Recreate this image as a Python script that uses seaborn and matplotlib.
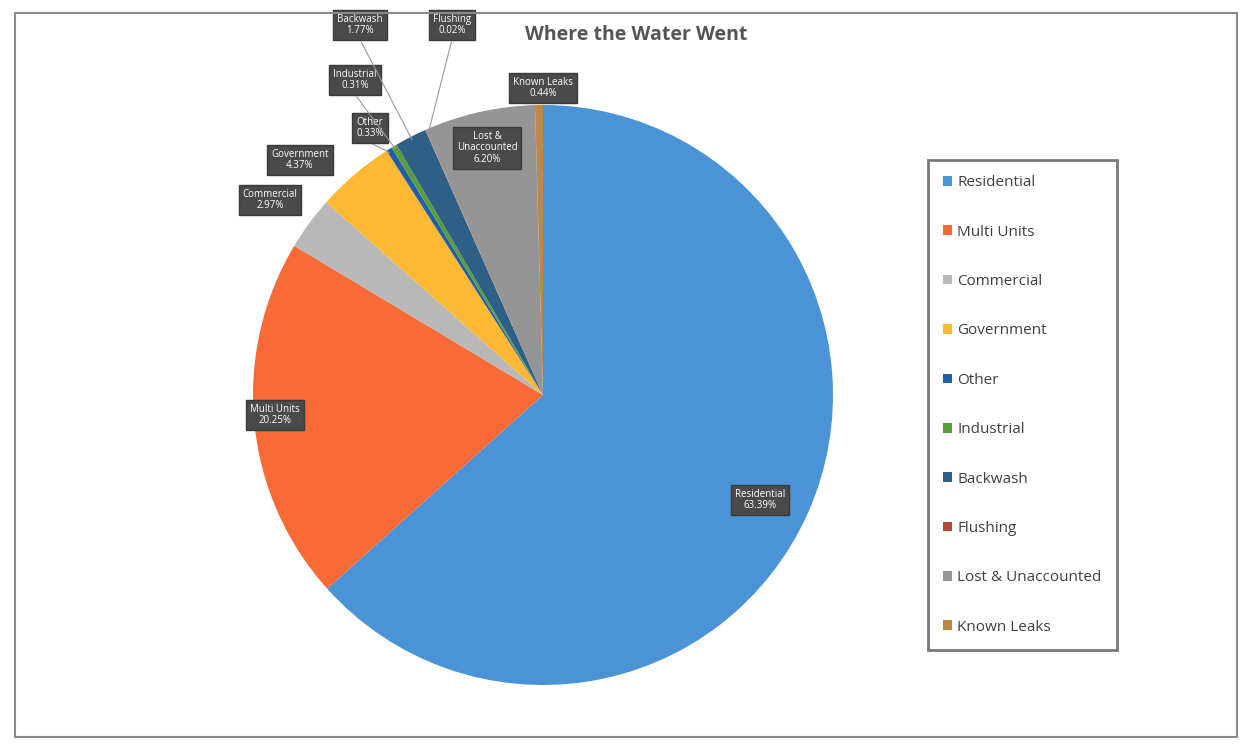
import matplotlib
matplotlib.use("Agg")
import matplotlib.pyplot as plt
import matplotlib.patches as mpatches
import numpy as np
import seaborn as sns

categories = ["Residential", "Multi Units", "Commercial", "Government", "Other",
              "Industrial", "Backwash", "Flushing", "Lost & Unaccounted", "Known Leaks"]
values = [63.39, 20.25, 2.97, 4.37, 0.33, 0.31, 1.77, 0.02, 6.20, 0.44]
label_names = ["Residential", "Multi Units", "Commercial", "Government", "Other",
               "Industrial", "Backwash", "Flushing", "Lost &\nUnaccounted", "Known Leaks"]
colors = ["#4A93D6", "#F86A36", "#B8B8B8", "#FDB933", "#1F5FA8",
          "#5A9E3A", "#2E5F86", "#B0473A", "#959595", "#BE8746"]

sns.set_theme(style="white")
plt.rcParams['font.family'] = ['Open Sans', 'DejaVu Sans']

fig = plt.figure(figsize=(12.52, 7.51), dpi=100)
fig.patch.set_facecolor("white")

# chart frame
frame = mpatches.Rectangle((0.012, 0.018), 0.976, 0.965, transform=fig.transFigure,
                           fill=False, edgecolor="#8a8a8a", linewidth=1.5)
fig.patches.append(frame)

cx, cy, r = 543, 395, 290
W, H = 1252, 751
ax = fig.add_axes([(cx - r) / W, 1 - (cy + r) / H, 2 * r / W, 2 * r / H])
wedges, _ = ax.pie(values, colors=colors, startangle=90, counterclock=False,
                   radius=1.0, wedgeprops=dict(linewidth=0))
ax.set_xlim(-1, 1)
ax.set_ylim(-1, 1)
ax.set_aspect("equal")
ax.axis("off")

# label placements (pixel coords in the figure)
label_px = [(760, 500), (275, 415), (270, 200), (300, 160), (370, 128),
            (355, 80), (360, 25), (452, 25), (487, 148), (543, 88)]
leader = [False, False, False, False, True, True, True, True, False, False]

for i, (w, name, v) in enumerate(zip(wedges, label_names, values)):
    px, py = label_px[i]
    xd, yd = (px - cx) / r, (cy - py) / r
    ang = np.deg2rad((w.theta1 + w.theta2) / 2)
    if leader[i]:
        ax.annotate("", xy=(np.cos(ang) * 0.98, np.sin(ang) * 0.98), xytext=(xd, yd - 0.05),
                    arrowprops=dict(arrowstyle="-", color="#9a9a9a", lw=0.8),
                    annotation_clip=False)
    ax.text(xd, yd, f"{name}\n{v:.2f}%", ha="center", va="center", fontsize=7,
            color="white", linespacing=1.1, clip_on=False,
            bbox=dict(boxstyle="square,pad=0.4", facecolor="#4a4a4a", edgecolor="#3a3a3a"))

fig.text(636 / W, 1 - 35 / H, "Where the Water Went", ha="center", va="center",
         fontsize=14, fontweight="bold", color="#555555")

handles = [mpatches.Patch(facecolor=c, edgecolor="none") for c in colors]
leg = fig.legend(handles, categories, loc="upper left",
                 bbox_to_anchor=(928 / W, 1 - 160 / H), fontsize=11,
                 labelspacing=2.25, handlelength=0.6, handleheight=0.6,
                 handletextpad=0.3, borderpad=1.0, frameon=True, fancybox=False,
                 borderaxespad=0)
leg.get_frame().set_edgecolor("#555555")
leg.get_frame().set_linewidth(2)
for t in leg.get_texts():
    t.set_color("#404040")

fig.savefig("out.png", dpi=100, facecolor=fig.get_facecolor())
